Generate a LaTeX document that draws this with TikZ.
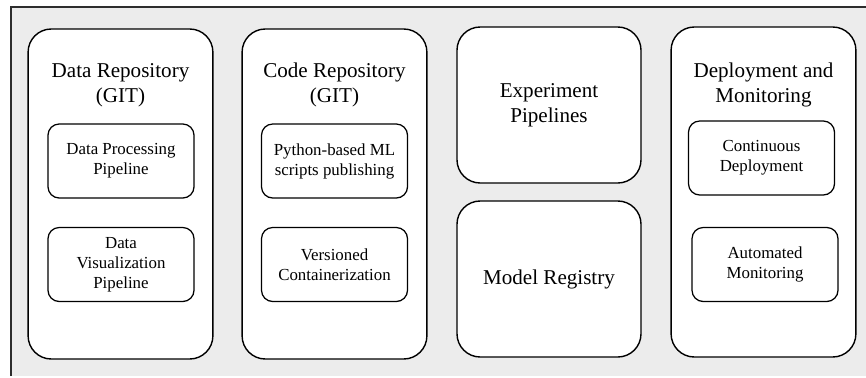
\documentclass[tikz,border=0pt]{standalone}
\usepackage{fontspec}
\setmainfont{Liberation Serif}
\definecolor{bggray}{RGB}{236,236,236}
\definecolor{framegray}{RGB}{45,45,45}
\begin{document}
\begin{tikzpicture}[scale=1,
  bigbox/.style={rectangle,rounded corners=0.58cm,draw=black,line width=1pt,fill=white,
    minimum width=4.62cm,minimum height=8.25cm,inner sep=0pt},
  halfbox/.style={rectangle,rounded corners=0.58cm,draw=black,line width=1pt,fill=white,
    minimum width=4.6cm,minimum height=3.9cm,align=center,
    font=\fontsize{15}{17.8}\selectfont},
  smallbox/.style={rectangle,rounded corners=0.28cm,draw=black,line width=0.9pt,fill=white,
    minimum width=3.65cm,minimum height=1.85cm,align=center,
    font=\fontsize{12}{14.2}\selectfont},
  title/.style={align=center,font=\fontsize{15}{17.8}\selectfont}]
\useasboundingbox (0,0) rectangle (21.65,9.425);
\fill[bggray] (0.275,0.025) rectangle (21.65,9.25);
\draw[framegray,line width=1pt] (0.275,0.025)--(0.275,9.25)--(21.65,9.25);

\node (data) at (3.0125,4.575)[bigbox]{};
\node (code) at (8.3625,4.575)[bigbox]{};
\node (exp) at (13.725,6.8)[halfbox]{Experiment\\Pipelines};
\node (reg) at (13.725,2.45)[halfbox]{Model Registry};
\node (dep) at (19.0875,4.625)[bigbox]{};

\node (t1) at (3.0125,7.29)[title]{Data Repository\\(GIT)};
\node (t2) at (8.3625,7.29)[title]{Code Repository\\(GIT)};
\node (t3) at (19.0875,7.29)[title]{Deployment and\\Monitoring};

\node (dp) at (3.025,5.4)[smallbox]{Data Processing\\Pipeline};
\node (dv) at (3.025,2.8125)[smallbox]{Data\\Visualization\\Pipeline};
\node (py) at (8.3625,5.4)[smallbox]{Python-based ML\\scripts publishing};
\node (vc) at (8.3625,2.8125)[smallbox]{Versioned\\Containerization};
\node (cd) at (19.0375,5.475)[smallbox]{Continuous\\Deployment};
\node (am) at (19.125,2.8125)[smallbox]{Automated\\Monitoring};
\end{tikzpicture}
\end{document}
